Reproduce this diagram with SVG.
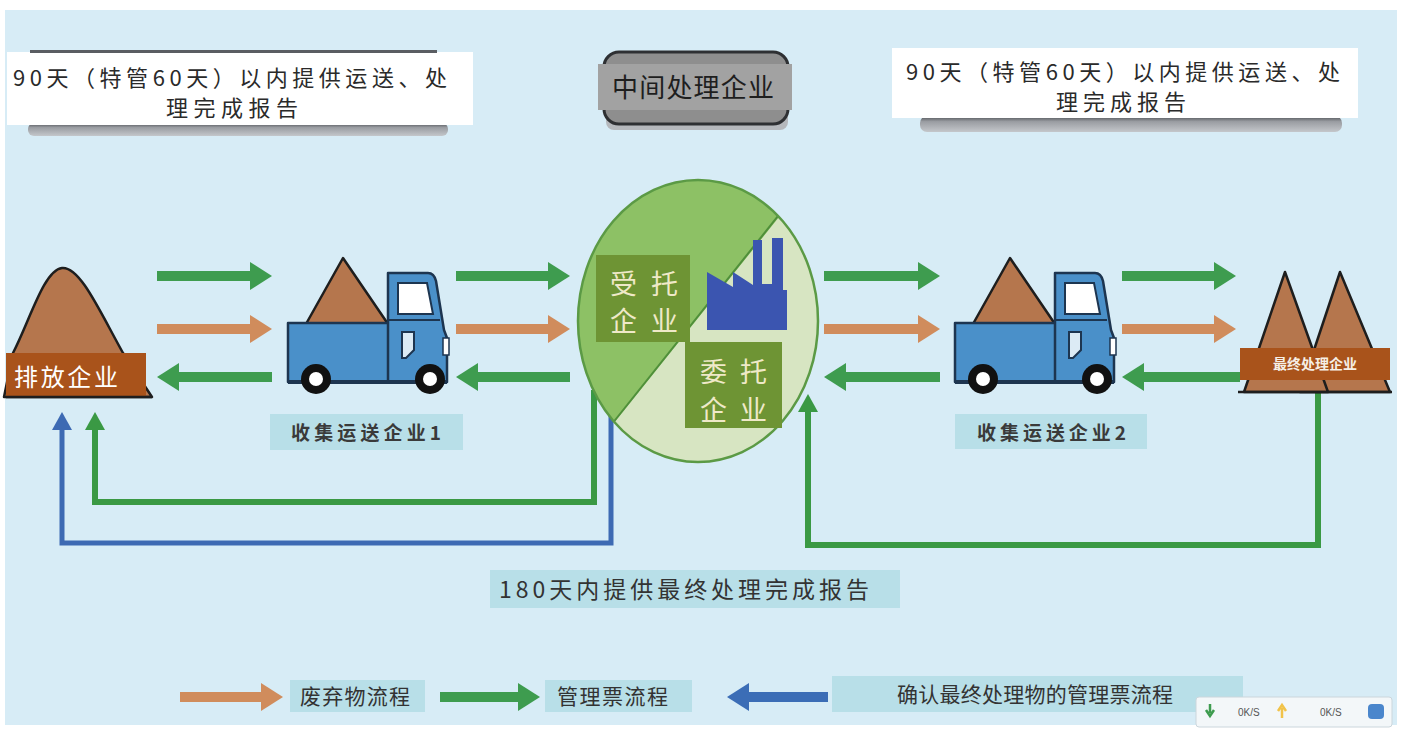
<svg xmlns="http://www.w3.org/2000/svg" width="1403" height="731" viewBox="0 0 1403 731">
  <style>
    .cn { font-family: "Noto Sans CJK SC", "Noto Sans", sans-serif; }
    .note { font-size: 22px; fill: #2a2a2a; }
    .lbl { font-size: 19px; fill: #3a3a3a; font-weight: bold; }
    .lblbox { fill: #b8dfe8; }
    .inner { font-size: 27px; fill: #efe9c8; }
    .flowG { stroke: #3e9c4f; stroke-width: 10; fill: none; }
    .flowO { stroke: #d08c5c; stroke-width: 10; fill: none; }
    .flowB { stroke: #3b6db6; stroke-width: 10; fill: none; }
    .linkG { stroke: #3a9944; stroke-width: 6; fill: none; }
    .linkB { stroke: #3d6ab3; stroke-width: 5; fill: none; }
    .truck { fill: #4a90c9; stroke: #1d3550; stroke-width: 2.5; stroke-linejoin: round; }
    .soil { fill: #b5764d; stroke: #1e1e1e; stroke-width: 2.5; stroke-linejoin: round; }
    .base { fill: #a9531b; }
  </style>
  <defs>
    <marker id="hg" markerUnits="userSpaceOnUse" markerWidth="22" markerHeight="28" refX="0" refY="14" orient="auto" overflow="visible">
      <path d="M0,0 L22,14 L0,28 Z" fill="#3e9c4f"/>
    </marker>
    <marker id="ho" markerUnits="userSpaceOnUse" markerWidth="22" markerHeight="28" refX="0" refY="14" orient="auto" overflow="visible">
      <path d="M0,0 L22,14 L0,28 Z" fill="#d08c5c"/>
    </marker>
    <marker id="hb" markerUnits="userSpaceOnUse" markerWidth="22" markerHeight="28" refX="0" refY="14" orient="auto" overflow="visible">
      <path d="M0,0 L22,14 L0,28 Z" fill="#3b6db6"/>
    </marker>
    <marker id="tg" markerUnits="userSpaceOnUse" markerWidth="18" markerHeight="20" refX="0" refY="10" orient="auto" overflow="visible">
      <path d="M0,0 L18,10 L0,20 Z" fill="#3a9944"/>
    </marker>
    <marker id="tb" markerUnits="userSpaceOnUse" markerWidth="18" markerHeight="20" refX="0" refY="10" orient="auto" overflow="visible">
      <path d="M0,0 L18,10 L0,20 Z" fill="#3d6ab3"/>
    </marker>
    <clipPath id="disc">
      <ellipse cx="698" cy="321" rx="120" ry="141"/>
    </clipPath>
    <linearGradient id="bar" x1="0" y1="0" x2="0" y2="1">
      <stop offset="0" stop-color="#4a4d52"/>
      <stop offset="0.35" stop-color="#9a9da2"/>
      <stop offset="1" stop-color="#c4c7cb"/>
    </linearGradient>
  </defs>

  <!-- page -->
  <rect x="0" y="0" width="1403" height="731" fill="#ffffff"/>
  <rect x="5" y="10" width="1392" height="715" fill="#d7ecf6"/>

  <!-- connectors -->
  <g id="connectors">
    <!-- left group -->
    <line class="flowG" x1="157" y1="276" x2="250" y2="276" marker-end="url(#hg)"/>
    <line class="flowO" x1="157" y1="329" x2="250" y2="329" marker-end="url(#ho)"/>
    <line class="flowG" x1="272" y1="377" x2="179" y2="377" marker-end="url(#hg)"/>
    <!-- truck 1 to centre -->
    <line class="flowG" x1="456" y1="276" x2="548" y2="276" marker-end="url(#hg)"/>
    <line class="flowO" x1="456" y1="329" x2="548" y2="329" marker-end="url(#ho)"/>
    <line class="flowG" x1="570" y1="377" x2="478" y2="377" marker-end="url(#hg)"/>
    <!-- centre to truck 2 -->
    <line class="flowG" x1="824" y1="276" x2="918" y2="276" marker-end="url(#hg)"/>
    <line class="flowO" x1="824" y1="329" x2="918" y2="329" marker-end="url(#ho)"/>
    <line class="flowG" x1="940" y1="377" x2="846" y2="377" marker-end="url(#hg)"/>
    <!-- truck 2 to final -->
    <line class="flowG" x1="1122" y1="276" x2="1214" y2="276" marker-end="url(#hg)"/>
    <line class="flowO" x1="1122" y1="329" x2="1214" y2="329" marker-end="url(#ho)"/>
    <line class="flowG" x1="1240" y1="377" x2="1144" y2="377" marker-end="url(#hg)"/>
    <!-- return loops -->
    <polyline class="linkG" points="594,390 594,502 95,502 95,430" marker-end="url(#tg)"/>
    <polyline class="linkB" points="611,415 611,543 62,543 62,430" marker-end="url(#tb)"/>
    <polyline class="linkG" points="1318,392 1318,545 808,545 808,412" marker-end="url(#tg)"/>
    <!-- legend arrows -->
    <line class="flowO" x1="180" y1="697" x2="261" y2="697" marker-end="url(#ho)"/>
    <line class="flowG" x1="440" y1="697" x2="518" y2="697" marker-end="url(#hg)"/>
    <line class="flowB" x1="828" y1="697" x2="749" y2="697" marker-end="url(#hb)"/>
  </g>

  <!-- 90-day note, left -->
  <g id="note-left">
    <rect x="28" y="123" width="420" height="13" rx="6" fill="url(#bar)"/>
    <rect x="7" y="52" width="466" height="73" fill="#ffffff"/>
    <rect x="30" y="50" width="407" height="3" fill="#5a5d62"/>
    <text class="cn note" x="13" y="86" textLength="434" lengthAdjust="spacing">90天（特管60天）以内提供运送、处</text>
    <text class="cn note" x="166" y="116" textLength="132" lengthAdjust="spacing">理完成报告</text>
  </g>

  <!-- intermediate treatment title -->
  <g id="title-mid">
    <rect x="606" y="110" width="182" height="20" rx="8" fill="#b5b8bc"/>
    <rect x="604" y="52" width="184" height="72" rx="15" fill="#8e8e8e" stroke="#2e3033" stroke-width="3"/>
    <rect x="598" y="64" width="194" height="46" fill="#a2a2a2"/>
    <text class="cn" x="612" y="97" font-size="26" fill="#1e1e1e" textLength="162" lengthAdjust="spacing">中间处理企业</text>
  </g>

  <!-- 90-day note, right -->
  <g id="note-right">
    <rect x="920" y="116" width="422" height="16" rx="7" fill="url(#bar)"/>
    <rect x="892" y="48" width="466" height="70" fill="#ffffff"/>
    <text class="cn note" x="906" y="80" textLength="434" lengthAdjust="spacing">90天（特管60天）以内提供运送、处</text>
    <text class="cn note" x="1056" y="110" textLength="130" lengthAdjust="spacing">理完成报告</text>
  </g>

  <!-- discharging enterprise -->
  <g id="node-discharger">
    <path class="soil" d="M4,397 L13,353 C30,320 44,270 62,268 C80,266 100,312 123,353 L152,397 Z"/>
    <rect class="base" x="6" y="353" width="140" height="43"/>
    <line x1="6" y1="397" x2="152" y2="397" stroke="#1e1e1e" stroke-width="2.5"/>
    <text class="cn" x="14" y="386" font-size="24" fill="#ffffff" textLength="104" lengthAdjust="spacing">排放企业</text>
  </g>

  <!-- collection truck 1 -->
  <g id="node-truck1">
    <polygon class="soil" points="306,324 343,258 388,324"/>
    <rect class="truck" x="288" y="323" width="102" height="59"/>
    <path class="truck" d="M388,382 L388,273 L428,273 Q434,273 436,281 L444,330 L447,338 L447,382 Z"/>
    <path d="M398,283 L427,283 L433,314 L398,314 Z" fill="#ffffff" stroke="#1d3550" stroke-width="2"/>
    <line x1="388" y1="320" x2="440" y2="320" stroke="#1d3550" stroke-width="2"/>
    <path d="M402,332 L414,332 L414,350 L406,358 L402,358 Z" fill="#dcebf5" stroke="#1d3550" stroke-width="2"/>
    <rect x="443" y="338" width="6" height="17" fill="#ffffff" stroke="#1d3550" stroke-width="1.5"/>
    <line x1="288" y1="382" x2="447" y2="382" stroke="#1d3550" stroke-width="4"/>
    <circle cx="316" cy="379" r="15" fill="#111111"/>
    <circle cx="316" cy="379" r="7" fill="#ffffff"/>
    <circle cx="430" cy="379" r="15" fill="#111111"/>
    <circle cx="430" cy="379" r="7" fill="#ffffff"/>
    <rect class="lblbox" x="270" y="414" width="193" height="36"/>
    <text class="cn lbl" x="291" y="440" textLength="150" lengthAdjust="spacing">收集运送企业1</text>
  </g>

  <!-- intermediate treatment disc -->
  <g id="node-intermediate">
    <ellipse cx="698" cy="321" rx="120" ry="141" fill="#d7e5c2"/>
    <polygon points="852,126 536,520 500,520 500,100 852,100" fill="#8dc165" clip-path="url(#disc)"/>
    <line x1="790" y1="201" x2="600" y2="439" stroke="#4f8f3a" stroke-width="2" clip-path="url(#disc)"/>
    <ellipse cx="698" cy="321" rx="120" ry="141" fill="none" stroke="#5b9a45" stroke-width="2.5"/>
    <polygon points="707,330 707,272 733,287 733,272 753,285 753,240 762,240 762,284 772,284 772,238 783,238 783,290 787,290 787,330" fill="#3b55b0"/>
    <rect x="596" y="255" width="94" height="87" fill="#6e9434"/>
    <text class="cn inner" x="610" y="294" textLength="68" lengthAdjust="spacing">受托</text>
    <text class="cn inner" x="610" y="331" textLength="68" lengthAdjust="spacing">企业</text>
    <rect x="685" y="342" width="97" height="86" fill="#6e9434"/>
    <text class="cn inner" x="700" y="382" textLength="67" lengthAdjust="spacing">委托</text>
    <text class="cn inner" x="700" y="420" textLength="67" lengthAdjust="spacing">企业</text>
  </g>

  <!-- collection truck 2 -->
  <g id="node-truck2">
    <g transform="translate(667,0)">
      <polygon class="soil" points="306,324 343,258 388,324"/>
      <rect class="truck" x="288" y="323" width="102" height="59"/>
      <path class="truck" d="M388,382 L388,273 L428,273 Q434,273 436,281 L444,330 L447,338 L447,382 Z"/>
      <path d="M398,283 L427,283 L433,314 L398,314 Z" fill="#ffffff" stroke="#1d3550" stroke-width="2"/>
      <line x1="388" y1="320" x2="440" y2="320" stroke="#1d3550" stroke-width="2"/>
      <path d="M402,332 L414,332 L414,350 L406,358 L402,358 Z" fill="#dcebf5" stroke="#1d3550" stroke-width="2"/>
      <rect x="443" y="338" width="6" height="17" fill="#ffffff" stroke="#1d3550" stroke-width="1.5"/>
      <line x1="288" y1="382" x2="447" y2="382" stroke="#1d3550" stroke-width="4"/>
      <circle cx="316" cy="379" r="15" fill="#111111"/>
      <circle cx="316" cy="379" r="7" fill="#ffffff"/>
      <circle cx="430" cy="379" r="15" fill="#111111"/>
      <circle cx="430" cy="379" r="7" fill="#ffffff"/>
    </g>
    <rect class="lblbox" x="955" y="414" width="192" height="35"/>
    <text class="cn lbl" x="977" y="440" textLength="149" lengthAdjust="spacing">收集运送企业2</text>
  </g>

  <!-- final disposal enterprise -->
  <g id="node-final">
    <polygon class="soil" points="1300,392 1340,272 1390,392"/>
    <polygon class="soil" points="1244,392 1285,272 1328,392"/>
    <rect class="base" x="1240" y="348" width="150" height="32"/>
    <line x1="1238" y1="392" x2="1392" y2="392" stroke="#1e1e1e" stroke-width="2.5"/>
    <text class="cn" x="1315" y="369" font-size="14" font-weight="bold" fill="#f6efe6" text-anchor="middle">最终处理企业</text>
  </g>

  <!-- 180-day note -->
  <g id="note-180">
    <rect class="lblbox" x="490" y="570" width="410" height="38"/>
    <text class="cn" x="499" y="598" font-size="23" fill="#333333" textLength="370" lengthAdjust="spacing">180天内提供最终处理完成报告</text>
  </g>

  <!-- legend -->
  <g id="legend">
    <rect class="lblbox" x="290" y="680" width="135" height="32"/>
    <text class="cn" x="300" y="704" font-size="21" fill="#333333" textLength="110" lengthAdjust="spacing">废弃物流程</text>
    <rect class="lblbox" x="545" y="680" width="147" height="32"/>
    <text class="cn" x="557" y="704" font-size="21" fill="#333333" textLength="111" lengthAdjust="spacing">管理票流程</text>
    <rect class="lblbox" x="832" y="676" width="411" height="36"/>
    <text class="cn" x="897" y="702" font-size="21" fill="#333333" textLength="276" lengthAdjust="spacing">确认最终处理物的管理票流程</text>
  </g>

  <!-- network speed widget -->
  <g id="speed-widget">
    <rect x="1196" y="697" width="196" height="30" rx="3" fill="#f3f7f9" stroke="#cbd6dc"/>
    <path d="M1210,704 L1210,713 M1206,710 L1210,716 L1214,710" stroke="#3e9c4f" stroke-width="2.5" fill="none"/>
    <text font-family="Liberation Sans, sans-serif" font-size="10" x="1238" y="716" fill="#555555">0K/S</text>
    <path d="M1282,718 L1282,708 M1278,711 L1282,705 L1286,711" stroke="#f1c34a" stroke-width="2.5" fill="none"/>
    <text font-family="Liberation Sans, sans-serif" font-size="10" x="1320" y="716" fill="#555555">0K/S</text>
    <rect x="1368" y="704" width="16" height="15" rx="4" fill="#4a86cc"/>
  </g>
</svg>
